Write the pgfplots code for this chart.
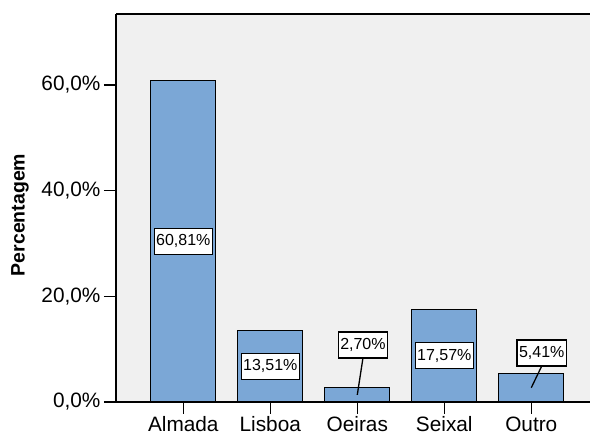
\documentclass[border=0pt]{standalone}
\usepackage{pgfplots}
\pgfplotsset{compat=1.18}
\usepackage{fontspec}
\setmainfont{Liberation Sans}
\definecolor{barblue}{HTML}{7BA7D6}
\definecolor{panel}{HTML}{F0F0F0}

\begin{document}
\begin{tikzpicture}
\useasboundingbox (-116pt,-37pt) rectangle (474pt,402pt);
\begin{axis}[
  at={(0pt,0pt)}, anchor=south west,
  scale only axis, width=474pt, height=388pt,
  xmin=-0.7736, xmax=4.675, ymin=0, ymax=73.44,
  axis lines*=left,
  axis line style={-, line width=1.5pt, black},
  axis background/.style={fill=panel},
  xtick={0,1,2,3,4},
  xticklabels={Almada,Lisboa,Oeiras,Seixal,Outro},
  ytick={0,20,40,60},
  yticklabels={{0,0\%},{20,0\%},{40,0\%},{60,0\%}},
  tick align=outside,
  major tick length=12pt,
  tick style={line width=1.5pt, black},
  tick label style={font=\fontsize{20.8}{24}\selectfont},
  xticklabel style={yshift=1pt},
  ylabel={Percentagem},
  every axis y label/.style={at={(axis description cs:-0.2025,0.482)}, rotate=90, anchor=center, font=\bfseries\fontsize{19.5}{22}\selectfont},
]
% frame line along the top of the panel
\draw[line width=1.5pt] (rel axis cs:0,1) -- (rel axis cs:1,1);

% bars
\addplot[ybar, bar width=65pt, fill=barblue, draw=black, line width=1.3pt]
  coordinates {(0,60.81) (1,13.51) (2,2.70) (3,17.57) (4,5.41)};

% leader lines for the small bars
\addplot[black, line width=1.3pt] coordinates {(2,1.35) (2.065,8.3)};
\addplot[black, line width=1.3pt] coordinates {(4,2.7) (4.12,6.8)};

% value labels
\addplot[draw=none, mark=none, point meta=explicit symbolic, nodes near coords,
  nodes near coords style={anchor=center, fill=white, draw=black, line width=1.3pt,
    font=\fontsize{16}{19}\selectfont, inner xsep=2pt, inner ysep=0pt,
    minimum height=26pt}]
  coordinates {(0,30.4) [60,81\%] (1,6.755) [13,51\%] (2.065,10.76) [2,70\%]
               (3,8.785) [17,57\%] (4.12,9.26) [5,41\%]};
\end{axis}
\end{tikzpicture}
\end{document}
